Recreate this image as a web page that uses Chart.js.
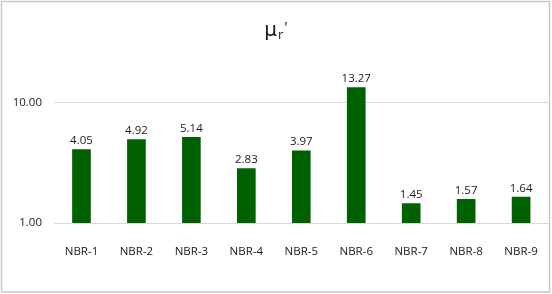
<!DOCTYPE html>
<html>
<head>
<meta charset="utf-8">
<script src="https://cdn.jsdelivr.net/npm/chart.js@4/dist/chart.umd.min.js"></script>
<style>
html,body{margin:0;padding:0;background:#fff;}
#wrap{width:552px;height:294px;position:relative;}
</style>
</head>
<body>
<div id="wrap"><canvas id="c" width="552" height="294"></canvas></div>
<script>
const categories = ['NBR-1','NBR-2','NBR-3','NBR-4','NBR-5','NBR-6','NBR-7','NBR-8','NBR-9'];
const values = [4.05, 4.92, 5.14, 2.83, 3.97, 13.27, 1.45, 1.57, 1.64];
const yTickValues = [1, 10];
const titleParts = ['\u03bc', 'r', "'"];

const FONT = '"Open Sans", "Noto Sans", sans-serif';

const borderPlugin = {
  id: 'outerBorder',
  beforeDraw(chart) {
    const ctx = chart.ctx;
    ctx.save();
    ctx.fillStyle = '#fff';
    ctx.fillRect(0, 0, chart.width, chart.height);
    ctx.strokeStyle = '#c9c9c9';
    ctx.lineWidth = 1.5;
    ctx.strokeRect(1.5, 1.5, 548, 290.5);
    ctx.restore();
  }
};

const titlePlugin = {
  id: 'subTitle',
  afterDraw(chart) {
    const ctx = chart.ctx;
    ctx.save();
    ctx.fillStyle = '#1a1a1a';
    ctx.textBaseline = 'alphabetic';
    ctx.textAlign = 'left';
    const f1 = '20px "DejaVu Sans", ' + FONT;
    const f2 = '13px ' + FONT;
    const f3 = '15px ' + FONT;
    ctx.font = f1; const w1 = ctx.measureText(titleParts[0]).width;
    ctx.font = f2; const w2 = ctx.measureText(titleParts[1]).width;
    ctx.font = f3; const w3 = ctx.measureText(titleParts[2]).width;
    let x = 276 - (w1 + w2 + w3 + 2) / 2;
    const base = 36;
    ctx.font = f1; ctx.fillText(titleParts[0], x, base); x += w1 + 1;
    ctx.font = f2; ctx.fillText(titleParts[1], x, base + 3); x += w2 + 1;
    ctx.font = f3; ctx.fillText(titleParts[2], x, base - 4);
    ctx.restore();
  }
};

const labelPlugin = {
  id: 'valueLabels',
  afterDatasetsDraw(chart) {
    const ctx = chart.ctx;
    ctx.save();
    ctx.font = '11.5px ' + FONT;
    ctx.fillStyle = '#1a1a1a';
    ctx.textAlign = 'center';
    ctx.textBaseline = 'bottom';
    chart.getDatasetMeta(0).data.forEach((el, i) => {
      ctx.fillText(values[i].toFixed(2), el.x, el.y - 3);
    });
    ctx.restore();
  }
};

new Chart(document.getElementById('c'), {
  type: 'bar',
  data: {
    labels: categories,
    datasets: [{
      data: values,
      backgroundColor: '#006100',
      borderWidth: 0,
      barThickness: 18
    }]
  },
  options: {
    responsive: false,
    animation: false,
    devicePixelRatio: 1,
    layout: { padding: { top: 66, right: 3, bottom: 0, left: 0 } },
    plugins: {
      legend: { display: false },
      tooltip: { enabled: false },
      title: { display: false }
    },
    scales: {
      x: {
        grid: { display: false },
        border: { display: false },
        ticks: { color: '#1a1a1a', font: { family: FONT, size: 11.5 }, padding: 14 },
        afterFit(scale) { scale.height = 71; }
      },
      y: {
        type: 'logarithmic',
        min: 1,
        max: 20,
        border: { display: false },
        grid: { color: '#d9d9d9', lineWidth: 1, drawTicks: false },
        ticks: {
          color: '#1a1a1a',
          font: { family: FONT, size: 11.5 },
          padding: 12,
          callback: (v) => Number(v).toFixed(2)
        },
        afterBuildTicks(scale) { scale.ticks = yTickValues.map(v => ({ value: v })); },
        afterFit(scale) { scale.width = 54; }
      }
    }
  },
  plugins: [borderPlugin, titlePlugin, labelPlugin]
});
</script>
</body>
</html>
